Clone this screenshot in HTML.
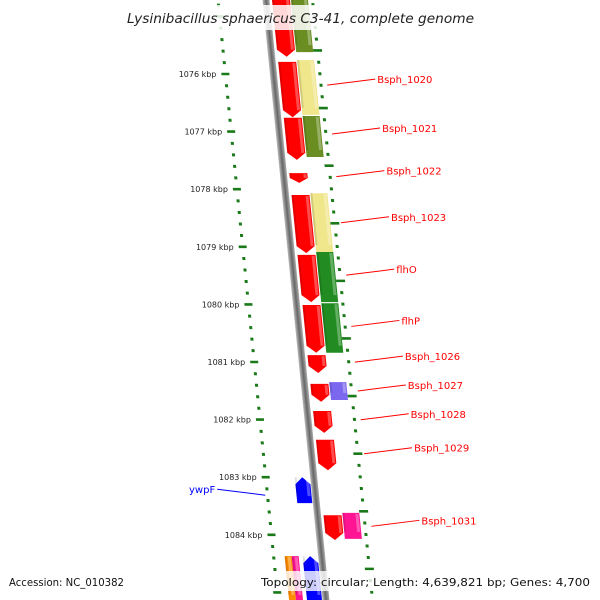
<!DOCTYPE html>
<html><head><meta charset="utf-8"><style>
html,body{margin:0;padding:0;background:#fff;width:600px;height:600px;overflow:hidden;}
svg{display:block;font-family:"DejaVu Sans","Liberation Sans",sans-serif;}
</style></head><body>
<svg id="chart" width="600" height="600" viewBox="0 0 600 600" overflow="hidden">
<defs>
<linearGradient id="bb" x1="0" x2="1" y1="0" y2="0">
<stop offset="0" stop-color="#bbb"/><stop offset="0.5" stop-color="#666"/><stop offset="1" stop-color="#aaa"/>
</linearGradient>
</defs>
<g id="skew" transform="translate(266,0) skewX(5.7106)">
<rect x="-3.5" y="-10" width="7" height="612" fill="url(#bb)"/>
<g id="ticks"></g>
<g id="genes"></g>
</g>
<g id="labels"></g>
<rect x="120" y="5" width="360" height="25" fill="#fff" fill-opacity="0.85"/>
<text x="127" y="23" font-size="13" font-style="italic" fill="#222" textLength="347" lengthAdjust="spacingAndGlyphs">Lysinibacillus sphaericus C3-41, complete genome</text>
<rect x="4" y="571" width="126" height="20" fill="#fff" fill-opacity="0.85"/>
<text x="9" y="586" font-size="11" fill="#111" textLength="115" lengthAdjust="spacingAndGlyphs">Accession: NC_010382</text>
<rect x="256" y="571" width="340" height="20" fill="#fff" fill-opacity="0.8"/>
<text x="261" y="586" font-size="11" fill="#111" textLength="329" lengthAdjust="spacingAndGlyphs">Topology: circular; Length: 4,639,821 bp; Genes: 4,700</text>
</svg>
<script>
const geneStart = [1074.63,1074.63,1075.79,1075.76,1076.76,1076.73,1077.72,1078.10,1078.07,1079.14,1079.09,1080.01,1079.98,1080.88,1081.38,1081.35,1081.85,1082.35,1083.00,1083.66,1083.62,1084.37,1084.37,1084.37];
const geneEnd   = [1075.70,1075.62,1076.75,1076.71,1077.49,1077.44,1077.89,1079.11,1079.09,1079.96,1079.96,1080.84,1080.84,1081.19,1081.69,1081.66,1082.23,1082.88,1083.45,1084.09,1084.07,1085.40,1085.40,1085.40];
const geneColor = ["#ff0000","#6b8e23","#ff0000","#f0e68c","#ff0000","#6b8e23","#ff0000","#ff0000","#f0e68c","#ff0000","#228b22","#ff0000","#228b22","#ff0000","#ff0000","#7b68ee","#ff0000","#ff0000","#0000ff","#ff0000","#ff1493","#0000ff","#ff8c00","#ff1493"];
const geneTrack = ["fi","fo","fi","fo","fi","fo","fi","fi","fo","fi","fo","fi","fo","fi","fi","fo","fi","fi","ri","fi","fo","ri","ro1","ro2"];
const labelText = ["Bsph_1020","Bsph_1021","Bsph_1022","Bsph_1023","flhO","flhP","Bsph_1026","Bsph_1027","Bsph_1028","Bsph_1029","Bsph_1031","ywpF"];
const labelKbp  = [1076.21,1077.06,1077.80,1078.60,1079.51,1080.40,1081.02,1081.52,1082.02,1082.61,1083.87,1083.33];
const tickLabels = [1076,1077,1078,1079,1080,1081,1082,1083,1084];

const NS="http://www.w3.org/2000/svg";
function yOf(k){return 74+(k-1076)*57.6;}
const trackX={fi:[6,24],fo:[25,42],ri:[-19,-4],ro1:[-37,-30],ro2:[-30,-23]};
function mk(tag,attrs,parent){const e=document.createElementNS(NS,tag);for(const a in attrs)e.setAttribute(a,attrs[a]);parent.appendChild(e);return e;}

const tg=document.getElementById('ticks');
for(let i=0;i<=54;i++){
  const k=1074.8+i*0.2;const y=yOf(k);
  const majL=Math.abs(k-Math.round(k))<0.01;
  const kr=k+0.2;const majR=Math.abs(kr-Math.round(kr))<0.01;
  const l=mk('rect',{x:majL?-52:-49.5,y:y-1.3,width:majL?8:3,height:majL?2.6:3,fill:'#1a7a1a'},tg);
  
  
  const r=mk('rect',{x:majR?42:45,y:y-12-1.3,width:majR?9:3,height:majR?2.6:3,fill:'#1a7a1a'},tg);
  
  
}

const gg=document.getElementById('genes');
for(let i=0;i<geneStart.length;i++){
  const [x1,x2]=trackX[geneTrack[i]];
  const y1=yOf(geneStart[i]),y2=Math.min(602,yOf(geneEnd[i]));
  const t=geneTrack[i];let pts;
  const xm=(x1+x2)/2,h=Math.min(7,(y2-y1)/2);
  if(t==='fi') pts=`${x1},${y1} ${x2},${y1} ${x2},${y2-h} ${xm},${y2} ${x1},${y2-h}`;
  else if(t==='ri') pts=`${xm},${y1} ${x2},${y1+h} ${x2},${y2} ${x1},${y2} ${x1},${y1+h}`;
  else pts=`${x1},${y1} ${x2},${y1} ${x2},${y2} ${x1},${y2}`;
  const p=mk('polygon',{points:pts,fill:geneColor[i]},gg);
  
  
  const s=mk('rect',{x:x2-4,y:y1+1,width:3,height:Math.max(0,y2-y1-h-1),fill:'#fff','fill-opacity':0.3},gg);
  
  
  const d=mk('rect',{x:x1,y:y1,width:2,height:Math.max(0,y2-y1-h),fill:'#000','fill-opacity':0.12},gg);
  
  
}

const lg=document.getElementById('labels');
for(let i=0;i<tickLabels.length;i++){
  const k=tickLabels[i];const y=yOf(k);const bx=266+0.1*y-48;
  const t=mk('text',{x:bx-9,y:y+3,'font-size':8,'text-anchor':'end',fill:'#222'},lg);
  t.textContent=k+' kbp';
  
  
}
for(let i=0;i<labelText.length;i++){
  const y=yOf(labelKbp[i])-4;const bx=266+0.1*y;
  const isRev=labelText[i]==='ywpF';
  const col=isRev?'#0000ff':'#ff0000';
  let x1,x2,tx,anchor;
  if(isRev){x1=bx-50;x2=bx-98;tx=x2-2;anchor='end';}
  else{x1=bx+53;x2=bx+101;tx=x2+2;anchor='start';}
  const ln=mk('line',{x1:x1,y1:y+3,x2:x2,y2:y-3,stroke:col,'stroke-width':1},lg);
  
  
  const t=mk('text',{x:tx,y:y+1,'font-size':10,'text-anchor':anchor,fill:col},lg);
  t.textContent=labelText[i];
  
  
}
</script>
</body></html>
